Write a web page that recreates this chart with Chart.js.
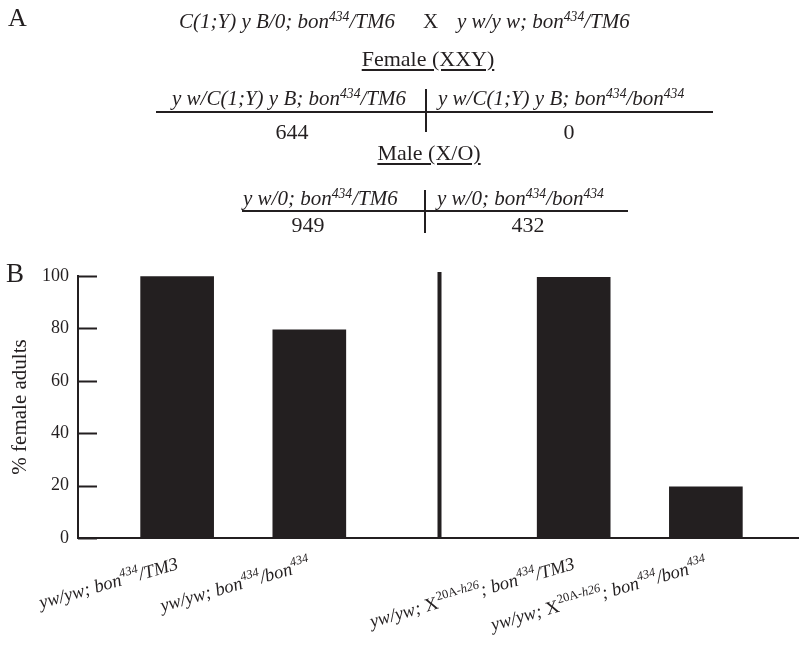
<!DOCTYPE html>
<html>
<head>
<meta charset="utf-8">
<script src="https://cdn.jsdelivr.net/npm/chart.js@4"></script>
<style>
  html, body { margin: 0; padding: 0; background: #fff; overflow: hidden; }
  #page { position: relative; width: 799px; height: 648px; overflow: hidden; }
  #chartBox { position: absolute; left: 0; top: 0; width: 805px; height: 648px; }
  .t { position: absolute; white-space: nowrap; line-height: 1; font-family: "Liberation Serif", "DejaVu Serif", serif; color: #231f20; }
  .i { font-style: italic; }
  .r { font-style: normal; }
  .c { transform: translateX(-50%); }
  .u { text-decoration: underline; text-decoration-thickness: 1.5px; text-underline-offset: 3px; }
  .t sup { font-size: 0.65em; vertical-align: baseline; position: relative; top: -0.5em; }
  .hl { position: absolute; background: #231f20; }
</style>
</head>
<body>
<div id="page">
  <div id="chartBox"><canvas id="barChart"></canvas></div>

  <div class="t" style="left:8px;top:5px;font-size:26px;">A</div>
  <div class="t i" style="left:179px;top:11px;font-size:21px;">C(1;Y) y B/0; bon<sup>434</sup>/TM6</div>
  <div class="t r" style="left:423px;top:11px;font-size:21px;">X</div>
  <div class="t i" style="left:457px;top:11px;font-size:21px;">y w/y w; bon<sup>434</sup>/TM6</div>

  <div class="t u c" style="left:428px;top:48px;font-size:22px;">Female (XXY)</div>
  <div class="t i" style="left:172px;top:88px;font-size:21px;">y w/C(1;Y) y B; bon<sup>434</sup>/TM6</div>
  <div class="t i" style="left:438px;top:88px;font-size:21px;">y w/C(1;Y) y B; bon<sup>434</sup>/bon<sup>434</sup></div>
  <div class="hl" style="left:156px;top:111px;width:557px;height:2px;"></div>
  <div class="hl" style="left:425px;top:89px;width:2px;height:43px;"></div>
  <div class="t c" id="f0" style="left:292px;top:121px;font-size:22px;"></div>
  <div class="t c" id="f1" style="left:569px;top:121px;font-size:22px;"></div>

  <div class="t u c" style="left:429px;top:142px;font-size:22px;">Male (X/O)</div>
  <div class="t i" style="left:243px;top:188px;font-size:21px;">y w/0; bon<sup>434</sup>/TM6</div>
  <div class="t i" style="left:437px;top:188px;font-size:21px;">y w/0; bon<sup>434</sup>/bon<sup>434</sup></div>
  <div class="hl" style="left:242px;top:210px;width:386px;height:2px;"></div>
  <div class="hl" style="left:424px;top:190px;width:2px;height:43px;"></div>
  <div class="t c" id="m0" style="left:308px;top:214px;font-size:22px;"></div>
  <div class="t c" id="m1" style="left:528px;top:214px;font-size:22px;"></div>

  <div class="t" style="left:6px;top:260px;font-size:27px;">B</div>
</div>
<script>
// Panel A counts
const femaleCounts = [644, 0];
const maleCounts = [949, 432];

// Panel B: slots along the x axis ('' = empty slot), ^ toggles superscript, | toggles upright
const categories = [
  "", "yw/yw; bon^434^/TM3", "", "yw/yw; bon^434^/bon^434^", "", "",
  "", "yw/yw; |X^20A-|h26^; bon^434^/TM3", "", "yw/yw; |X^20A-|h26^; bon^434^/bon^434^", ""
];
const femalePct = [null, 99.8, null, 79.5, null, null, null, 99.5, null, 19.5, null];
const yTicks = [0, 20, 40, 60, 80, 100];
const dividerSlot = 5;
const dividerTop = 101.5;

document.getElementById("f0").textContent = femaleCounts[0];
document.getElementById("f1").textContent = femaleCounts[1];
document.getElementById("m0").textContent = maleCounts[0];
document.getElementById("m1").textContent = maleCounts[1];

const ink = "#231f20";
const serif = '"Liberation Serif", "DejaVu Serif", serif';

function parseLabel(str) {
  const out = [];
  let sup = false, roman = false, buf = "";
  for (const ch of str) {
    if (ch === "^" || ch === "|") {
      if (buf) out.push({ t: buf, sup: sup, roman: roman });
      buf = "";
      if (ch === "^") sup = !sup; else roman = !roman;
    } else {
      buf += ch;
    }
  }
  if (buf) out.push({ t: buf, sup: sup, roman: roman });
  return out;
}

const extras = {
  id: "extras",
  afterDraw(chart) {
    const ctx = chart.ctx;
    const x = chart.scales.x;
    const y = chart.scales.y;
    const area = chart.chartArea;
    ctx.save();
    ctx.strokeStyle = ink;
    ctx.fillStyle = ink;

    // inward ticks on the y axis
    ctx.lineWidth = 2;
    yTicks.forEach(function (v) {
      const py = Math.round(y.getPixelForValue(v)) + 0.5;
      ctx.beginPath();
      ctx.moveTo(area.left, py);
      ctx.lineTo(area.left + 19, py);
      ctx.stroke();
    });

    // divider between the two groups
    ctx.lineWidth = 4;
    const dx = x.getPixelForValue(dividerSlot) - 2;
    ctx.beginPath();
    ctx.moveTo(dx, y.getPixelForValue(0));
    ctx.lineTo(dx, y.getPixelForValue(dividerTop));
    ctx.stroke();

    // rotated category labels with superscripts
    categories.forEach(function (lab, i) {
      if (!lab) return;
      const segs = parseLabel(lab);
      const fontOf = function (s) {
        return (s.roman ? "" : "italic ") + (s.sup ? 12.5 : 18.5) + "px " + serif;
      };
      let w = 0;
      segs.forEach(function (s) { ctx.font = fontOf(s); w += ctx.measureText(s.t).width; });
      ctx.save();
      ctx.translate(x.getPixelForValue(i) + 2, area.bottom + 31);
      ctx.rotate(-16 * Math.PI / 180);
      ctx.textBaseline = "alphabetic";
      ctx.textAlign = "left";
      let cx = -w;
      segs.forEach(function (s) {
        ctx.font = fontOf(s);
        ctx.fillText(s.t, cx, s.sup ? -8 : 0);
        cx += ctx.measureText(s.t).width;
      });
      ctx.restore();
    });
    ctx.restore();
  }
};

new Chart(document.getElementById("barChart"), {
  type: "bar",
  data: {
    labels: categories,
    datasets: [{
      label: "% female adults",
      data: femalePct,
      backgroundColor: ink,
      borderWidth: 0,
      barThickness: 73
    }]
  },
  options: {
    responsive: true,
    maintainAspectRatio: false,
    animation: false,
    events: [],
    layout: { padding: { top: 276, right: 0, bottom: 110, left: 0 } },
    plugins: { legend: { display: false }, tooltip: { enabled: false } },
    scales: {
      x: {
        grid: { display: true, drawOnChartArea: false, drawTicks: false },
        border: { display: true, color: ink, width: 2 },
        ticks: { display: false }
      },
      y: {
        min: 0,
        max: 100,
        afterFit: function (s) { s.width = 78; },
        afterBuildTicks: function (s) { s.ticks = yTicks.map(function (v) { return { value: v }; }); },
        grid: { display: true, drawOnChartArea: false, drawTicks: false },
        border: { display: true, color: ink, width: 2 },
        ticks: { padding: 9, color: ink, font: { family: serif, size: 18 } },
        title: {
          display: true,
          text: "% female adults",
          color: ink,
          font: { family: serif, size: 21 },
          padding: { top: 8, bottom: 0 }
        }
      }
    }
  },
  plugins: [extras]
});
</script>
</body>
</html>
